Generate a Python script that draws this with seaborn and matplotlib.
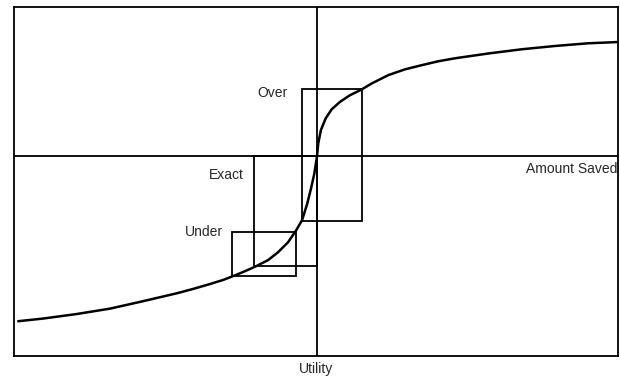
import matplotlib
matplotlib.use("Agg")
import matplotlib.pyplot as plt
from matplotlib.patches import Rectangle
import seaborn as sns
import pandas as pd

# utility curve (amount saved -> utility)
curve_x = [-9.96, -9.12, -8.01, -6.90, -5.79, -4.68, -4.12, -3.57, -3.12, -2.81,
           -2.42, -2.02, -1.63, -1.30, -0.97, -0.69, -0.50, -0.33, -0.20, -0.09,
           0.0, 0.04, 0.13, 0.29, 0.49, 0.77, 1.10, 1.49, 1.82, 2.38,
           2.93, 3.49, 4.04, 4.60, 5.71, 6.82, 7.93, 9.04, 9.99]
curve_y = [-5.51, -5.42, -5.27, -5.09, -4.84, -4.58, -4.43, -4.27, -4.13, -4.01,
           -3.85, -3.67, -3.47, -3.21, -2.88, -2.47, -2.14, -1.60, -1.08, -0.58,
           0.0, 0.42, 0.87, 1.26, 1.56, 1.81, 2.03, 2.22, 2.42, 2.70,
           2.89, 3.03, 3.16, 3.26, 3.42, 3.56, 3.67, 3.76, 3.80]

# boxes: label, x0, x1, y0, y1
box_names = ["Over", "Exact", "Under"]
box_x0 = [-0.50, -2.10, -2.83]
box_x1 = [1.51, 0.0, -0.70]
box_y0 = [-2.16, -3.67, -4.00]
box_y1 = [2.23, 0.0, -2.53]
label_pos = [(-0.97, 2.10), (-2.43, -0.63), (-3.13, -2.53)]

sns.set_style("white")
plt.rcParams["font.family"] = ["Liberation Sans", "DejaVu Sans"]

fig = plt.figure(figsize=(6.2, 3.77), dpi=100)
ax = fig.add_axes([14 / 620, 21 / 377, 604 / 620, 349 / 377])

df = pd.DataFrame({"saved": curve_x, "utility": curve_y})
sns.lineplot(data=df, x="saved", y="utility", sort=False, color="black",
             lw=1.8, solid_joinstyle="round", ax=ax)

ax.axhline(0, color="black", lw=1.3)
ax.axvline(0, color="black", lw=1.3)

for name, x0, x1, y0, y1, pos in zip(box_names, box_x0, box_x1, box_y0, box_y1, label_pos):
    ax.add_patch(Rectangle((x0, y0), x1 - x0, y1 - y0, fill=False, ec="black", lw=1.3))
    ax.text(pos[0], pos[1], name, ha="right", va="center", fontsize=10)

ax.text(10.0, -0.43, "Amount Saved", ha="right", va="center", fontsize=10)

ax.set_xlim(-10.1, 10.03)
ax.set_ylim(-6.67, 4.97)
ax.set_xticks([])
ax.set_yticks([])
ax.set_ylabel("")
ax.set_xlabel("Utility", fontsize=10, labelpad=4)
for s in ax.spines.values():
    s.set_color("black")
    s.set_linewidth(1.3)

fig.savefig("out.png", dpi=100)
